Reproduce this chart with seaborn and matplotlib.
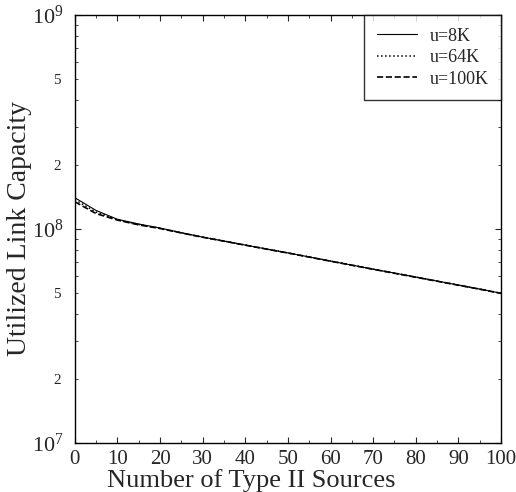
import math
import matplotlib
matplotlib.use("Agg")
import matplotlib.pyplot as plt
import matplotlib.ticker as mticker
import seaborn as sns
import pandas as pd

# number of type II sources
sources = [0, 5, 10, 15, 20, 25, 30, 35, 40, 45, 50,
           55, 60, 65, 70, 75, 80, 85, 90, 95, 100]

# utilized link capacity
cap_8k = [1.40e8, 1.22e8, 1.11e8, 1.055e8, 1.01e8, 0.96e8, 0.916e8, 0.878e8, 0.841e8, 0.806e8, 0.773e8,
          0.740e8, 0.708e8, 0.678e8, 0.649e8, 0.622e8, 0.596e8, 0.571e8, 0.547e8, 0.524e8, 0.501e8]
cap_64k = [1.37e8, 1.20e8, 1.105e8, 1.05e8, 1.008e8, 0.96e8, 0.916e8, 0.878e8, 0.841e8, 0.806e8, 0.773e8,
           0.740e8, 0.708e8, 0.678e8, 0.649e8, 0.622e8, 0.596e8, 0.571e8, 0.547e8, 0.524e8, 0.501e8]
cap_100k = [1.34e8, 1.18e8, 1.10e8, 1.045e8, 1.005e8, 0.958e8, 0.915e8, 0.877e8, 0.840e8, 0.805e8, 0.772e8,
            0.739e8, 0.707e8, 0.677e8, 0.648e8, 0.621e8, 0.595e8, 0.570e8, 0.546e8, 0.523e8, 0.500e8]

labels = ["u=8K", "u=64K", "u=100K"]
styles = ["-", ":", "--"]
widths = [0.8, 1.1, 1.2]

sns.set_style("ticks")
plt.rcParams['font.family'] = ['Liberation Serif', 'DejaVu Serif']
plt.rcParams['mathtext.fontset'] = 'stix'

fig = plt.figure(figsize=(5.16, 4.92), dpi=100)
ax = fig.add_axes([0.145, 0.0996, 0.826, 0.87])

for vals, lab, ls, lw in zip([cap_8k, cap_64k, cap_100k], labels, styles, widths):
    df = pd.DataFrame({"x": sources, "y": vals})
    sns.lineplot(data=df, x="x", y="y", ax=ax, color="black", linestyle=ls,
                 linewidth=lw, label=lab)

ax.set_yscale("log")
ax.set_ylim(1e7, 1e9)
ax.set_xlim(0, 100)
ax.set_xticks(range(0, 101, 10))
ax.xaxis.set_minor_locator(mticker.MultipleLocator(5))
ax.yaxis.set_major_locator(mticker.LogLocator(base=10))
ax.yaxis.set_minor_locator(mticker.LogLocator(base=10, subs=range(2, 10)))


def minor_fmt(v, pos):
    m = round(v / 10 ** math.floor(math.log10(v) + 1e-9))
    return str(m) if m in (2, 5) else ""


ax.yaxis.set_minor_formatter(mticker.FuncFormatter(minor_fmt))
ax.tick_params(which="both", direction="in", top=True, right=True)
ax.tick_params(axis="x", which="major", labelsize=15, pad=5)
ax.tick_params(axis="y", which="major", labelsize=16, pad=8)
ax.tick_params(axis="y", which="minor", labelsize=11, pad=10)
ax.tick_params(which="major", length=4, width=0.8)
ax.tick_params(which="minor", length=2, width=0.6)

for s in ax.spines.values():
    s.set_color("black")
    s.set_linewidth(1.0)

ax.set_xlabel("Number of Type II Sources", fontsize=19)
ax.xaxis.set_label_coords(0.415, -0.103)
ax.xaxis.label.set_verticalalignment("baseline")
ax.set_ylabel("Utilized Link Capacity", fontsize=20)
ax.yaxis.set_label_coords(-0.13, 0.5)
ax.yaxis.label.set_verticalalignment("center")

leg = ax.legend(loc="upper right", fontsize=13, frameon=True, fancybox=False,
                handlelength=2.2, borderaxespad=0.0, borderpad=0.7, labelspacing=0.25,
                handletextpad=0.7)
leg.get_frame().set_edgecolor("black")
leg.get_frame().set_linewidth(1.0)

fig.savefig("out.png", dpi=100)
